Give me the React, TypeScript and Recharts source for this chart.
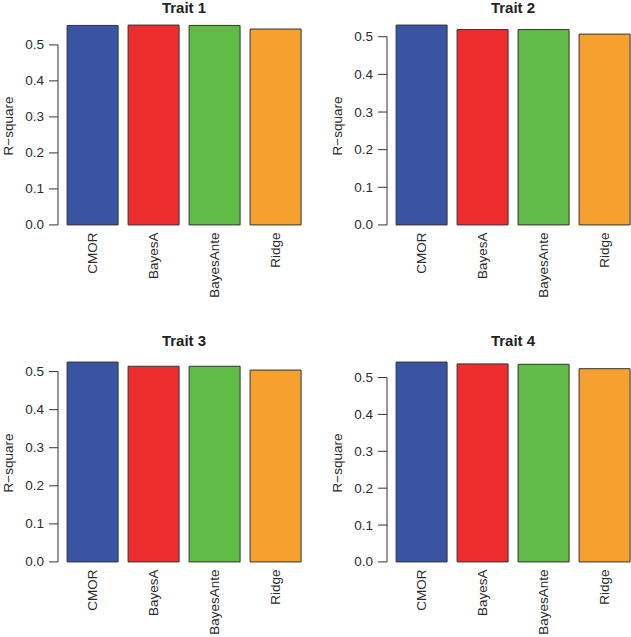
import { BarChart, Bar, XAxis, YAxis, Cell } from "recharts";

const methods = ["CMOR", "BayesA", "BayesAnte", "Ridge"];
const methodColors = ["#3A54A4", "#EE2E2E", "#61BB47", "#F6A12F"];

const trait1 = [0.554, 0.555, 0.554, 0.544];
const trait2 = [0.531, 0.519, 0.519, 0.507];
const trait3 = [0.525, 0.514, 0.514, 0.504];
const trait4 = [0.542, 0.537, 0.536, 0.524];

const traitTitles = ["Trait 1", "Trait 2", "Trait 3", "Trait 4"];
const yTicks = [0, 0.1, 0.2, 0.3, 0.4, 0.5];

const FONT = '"Liberation Sans", Arial, sans-serif';
const TEXT = "#2b2b2b";
const CHART_W = 315;
const CHART_H = 300;
const TOP = 17;
const AXIS_W = 58;
const X_AXIS_H = 65;
const PLOT_H = CHART_H - TOP - X_AXIS_H;

// same y range as R's barplot: -1% of max as base, then 4% padding each side
function barplotDomain(values: number[]): [number, number] {
  const max = Math.max(...values);
  const lo = -0.01 * max;
  const r = max - lo;
  return [lo - 0.04 * r, max + 0.04 * r];
}

interface PanelProps {
  title: string;
  values: number[];
  left: number;
  top: number;
  titleTop: number;
}

function Panel({ title, values, left, top, titleTop }: PanelProps) {
  const data = methods.map((name, i) => ({ name, value: values[i] }));
  const [lo, hi] = barplotDomain(values);
  const k = PLOT_H / (hi - lo);
  const zeroOffset = -lo * k; // plot bottom to the 0 line

  return (
    <>
      <div
        style={{
          position: "absolute",
          left: left + AXIS_W,
          top: titleTop,
          width: CHART_W - AXIS_W - 5,
          textAlign: "center",
          fontWeight: "bold",
          fontSize: 15,
          lineHeight: "15px",
          color: "#222",
        }}
      >
        {title}
      </div>
      <div style={{ position: "absolute", left, top }}>
        <BarChart
          width={CHART_W}
          height={CHART_H}
          data={data}
          margin={{ top: TOP, right: 5, left: 0, bottom: 0 }}
          barCategoryGap="8.33%"
        >
          <XAxis
            dataKey="name"
            height={X_AXIS_H}
            padding={{ left: 4, right: 4 }}
            axisLine={false}
            tickLine={false}
            tickSize={0}
            tickMargin={0}
            interval={0}
            tick={({ x, y, payload }: any) => (
              <g transform={`translate(${x},${y - zeroOffset + 7.5})`}>
                <text
                  transform="rotate(-90)"
                  textAnchor="end"
                  dominantBaseline="central"
                  fontSize={13.5}
                  fill={TEXT}
                >
                  {payload.value}
                </text>
              </g>
            )}
          />
          <YAxis
            type="number"
            width={AXIS_W}
            domain={[lo, hi]}
            allowDataOverflow
            ticks={yTicks}
            axisLine={false}
            tickLine={false}
            tickSize={0}
            tickMargin={0}
            interval={0}
            tick={({ x, y, payload }: any) => (
              <g>
                <line x1={x - 9} y1={y} x2={x} y2={y} stroke="#333" strokeWidth={1} />
                {payload.value === 0 && (
                  <line x1={x} y1={y} x2={x} y2={y - 0.5 * k} stroke="#333" strokeWidth={1} />
                )}
                <text
                  x={x - 14}
                  y={y}
                  textAnchor="end"
                  dominantBaseline="central"
                  fontSize={13.5}
                  fill={TEXT}
                >
                  {payload.value.toFixed(1)}
                </text>
              </g>
            )}
            label={{
              content: ({ viewBox }: any) => (
                <text
                  transform={`translate(${viewBox.x + viewBox.width - 50},${
                    viewBox.y + viewBox.height / 2
                  }) rotate(-90)`}
                  textAnchor="middle"
                  dominantBaseline="central"
                  fontSize={13.5}
                  fill={TEXT}
                >
                  R{"\u2212"}square
                </text>
              ),
            }}
          />
          <Bar dataKey="value" stroke="#333" strokeWidth={1} isAnimationActive={false}>
            {data.map((d, i) => (
              <Cell key={d.name} fill={methodColors[i]} />
            ))}
          </Bar>
        </BarChart>
      </div>
    </>
  );
}

export default function App() {
  return (
    <div
      style={{
        position: "absolute",
        left: 0,
        top: 0,
        width: 631,
        height: 637,
        overflow: "hidden",
        background: "#fff",
        fontFamily: FONT,
      }}
    >
      <Panel title={traitTitles[0]} values={trait1} left={0} top={0} titleTop={0} />
      <Panel title={traitTitles[1]} values={trait2} left={329} top={0} titleTop={0} />
      <Panel title={traitTitles[2]} values={trait3} left={0} top={337} titleTop={333} />
      <Panel title={traitTitles[3]} values={trait4} left={329} top={337} titleTop={333} />
    </div>
  );
}
